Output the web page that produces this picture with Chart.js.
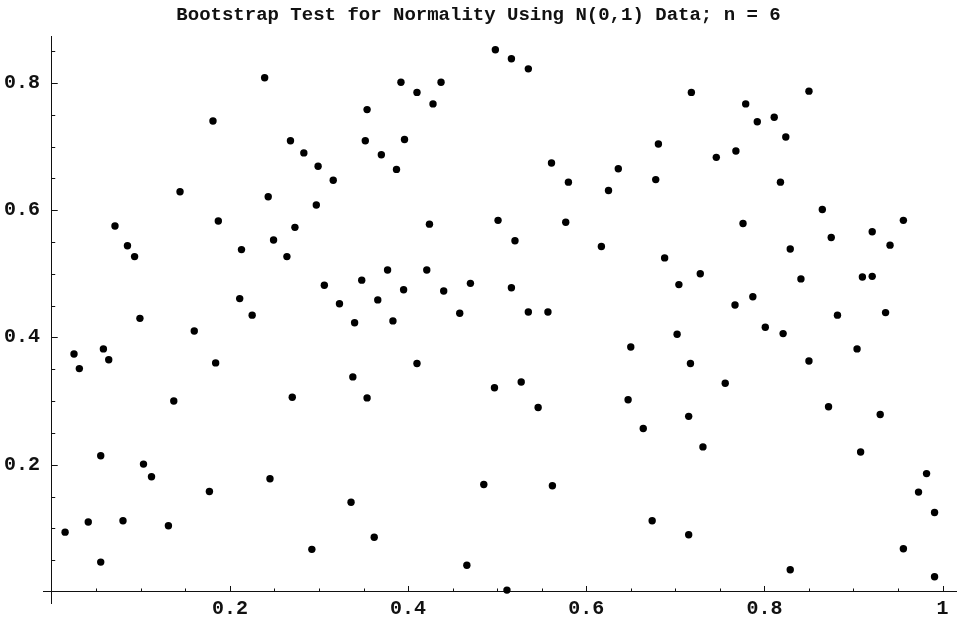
<!DOCTYPE html>
<html>
<head>
<meta charset="utf-8">
<script src="https://cdn.jsdelivr.net/npm/chart.js@4.4.1/dist/chart.umd.min.js"></script>
<style>
  html, body { margin: 0; padding: 0; background: #fff; }
  canvas { display: block; }
</style>
</head>
<body>
<canvas id="bootChart" width="960" height="625"></canvas>
<script>
// Données (x = rang, y = valeur bootstrap)
const xValues = [
  0.239, 0.181, 0.144, 0.243, 0.071, 0.187, 0.085, 0.093, 0.213, 0.249, 0.211, 0.225, 0.099,
  0.160, 0.025, 0.031, 0.058, 0.064, 0.184, 0.137, 0.055, 0.103, 0.112, 0.245, 0.177, 0.015,
  0.041, 0.080, 0.131, 0.055,
  0.498, 0.392, 0.410, 0.437, 0.428, 0.354, 0.268, 0.283, 0.299, 0.316, 0.352, 0.396, 0.370,
  0.387, 0.297, 0.273, 0.264, 0.424, 0.501, 0.306, 0.323, 0.348, 0.377, 0.395, 0.366, 0.421,
  0.440, 0.470, 0.458,
  0.340, 0.383, 0.410, 0.338, 0.270, 0.354, 0.497, 0.485, 0.336, 0.362, 0.292, 0.466, 0.511,
  0.516, 0.535, 0.718, 0.681, 0.746, 0.768, 0.561, 0.636, 0.580, 0.678, 0.625, 0.577, 0.520,
  0.617, 0.688, 0.728, 0.704, 0.516, 0.535, 0.557, 0.767,
  0.702, 0.650, 0.717, 0.527, 0.756, 0.546, 0.647, 0.715, 0.664, 0.731, 0.562, 0.674, 0.715,
  0.850, 0.779, 0.792, 0.811, 0.824, 0.818, 0.865, 0.776, 0.956, 0.875, 0.921, 0.941, 0.829,
  0.841, 0.910, 0.921, 0.787, 0.882, 0.936,
  0.801, 0.821, 0.904, 0.850, 0.872, 0.930, 0.908, 0.982, 0.973, 0.991, 0.956, 0.829, 0.991
];
const yValues = [
  0.808, 0.740, 0.629, 0.621, 0.575, 0.583, 0.544, 0.527, 0.538, 0.553, 0.461, 0.435, 0.430,
  0.410, 0.374, 0.351, 0.382, 0.365, 0.360, 0.300, 0.214, 0.201, 0.181, 0.178, 0.158, 0.094,
  0.110, 0.112, 0.104, 0.047,
  0.852, 0.801, 0.785, 0.801, 0.767, 0.758, 0.709, 0.690, 0.669, 0.647, 0.709, 0.711, 0.687,
  0.664, 0.608, 0.573, 0.527, 0.578, 0.584, 0.482, 0.453, 0.490, 0.506, 0.475, 0.459, 0.506,
  0.473, 0.485, 0.438,
  0.423, 0.426, 0.359, 0.338, 0.306, 0.305, 0.321, 0.169, 0.141, 0.086, 0.067, 0.042, 0.003,
  0.838, 0.822, 0.785, 0.704, 0.683, 0.693, 0.674, 0.665, 0.644, 0.648, 0.631, 0.581, 0.552,
  0.543, 0.525, 0.500, 0.483, 0.478, 0.440, 0.440, 0.451,
  0.405, 0.385, 0.359, 0.330, 0.328, 0.290, 0.302, 0.276, 0.257, 0.228, 0.167, 0.112, 0.090,
  0.787, 0.767, 0.739, 0.746, 0.715, 0.644, 0.601, 0.579, 0.584, 0.557, 0.566, 0.545, 0.539,
  0.492, 0.495, 0.496, 0.464, 0.435, 0.439,
  0.416, 0.406, 0.382, 0.363, 0.291, 0.279, 0.220, 0.186, 0.157, 0.125, 0.068, 0.035, 0.024
];

// Graduations
const xTickValues = [0.2, 0.4, 0.6, 0.8, 1];
const xTickLabels = ['0.2', '0.4', '0.6', '0.8', '1'];
const yTickValues = [0.2, 0.4, 0.6, 0.8];
const yTickLabels = ['0.2', '0.4', '0.6', '0.8'];
const minorStep = 0.05;

const titleText = 'Bootstrap Test for Normality Using N(0,1) Data; n = 6';

const inkColor = '#111';
const labelFont = { family: 'Liberation Mono', size: 20, weight: 'bold' };
const titleFont = { family: 'Liberation Mono', size: 19, weight: 'bold' };

const xRange = { min: -0.0098, max: 1.0154 };
const yRange = { min: -0.0173, max: 0.8724 };

// Petites graduations tournées vers l'intérieur (style Mathematica)
const innerTicks = {
    id: 'innerTicks',
    afterDraw(chart) {
        const ctx = chart.ctx;
        const xs = chart.scales.x;
        const ys = chart.scales.y;
        const x0 = xs.getPixelForValue(0);
        const y0 = ys.getPixelForValue(0);
        ctx.save();
        ctx.strokeStyle = inkColor;
        ctx.lineWidth = 1;
        ctx.beginPath();
        for (let i = 1; i * minorStep <= xs.max; i++) {
            const len = (i % 4 === 0) ? 6 : 3.5;
            const px = Math.round(xs.getPixelForValue(i * minorStep)) + 0.5;
            ctx.moveTo(px, y0);
            ctx.lineTo(px, y0 - len);
        }
        for (let i = 1; i * minorStep <= ys.max; i++) {
            const len = (i % 4 === 0) ? 6 : 3.5;
            const py = Math.round(ys.getPixelForValue(i * minorStep)) + 0.5;
            ctx.moveTo(x0, py);
            ctx.lineTo(x0 + len, py);
        }
        ctx.stroke();
        ctx.restore();
    }
};

const points = xValues.map((x, i) => ({ x: x, y: yValues[i] }));

new Chart(document.getElementById('bootChart').getContext('2d'), {
    type: 'scatter',
    data: {
        datasets: [{
            label: 'bootstrap',
            data: points,
            backgroundColor: '#000',
            borderColor: '#000',
            borderWidth: 0,
            pointRadius: 3.7,
            pointHoverRadius: 3.7
        }]
    },
    options: {
        responsive: false,
        animation: false,
        layout: {
            padding: { left: 0, right: 3, top: 0, bottom: 22 }
        },
        scales: {
            x: {
                type: 'linear',
                position: { y: 0 },
                min: xRange.min,
                max: xRange.max,
                afterBuildTicks(scale) {
                    scale.ticks = xTickValues.map(v => ({ value: v }));
                },
                grid: { display: false },
                border: { display: true, color: inkColor, width: 1 },
                ticks: {
                    color: inkColor,
                    font: labelFont,
                    padding: -3,
                    maxRotation: 0,
                    autoSkip: false,
                    callback: (v, i) => xTickLabels[i]
                }
            },
            y: {
                type: 'linear',
                position: { x: 0 },
                min: yRange.min,
                max: yRange.max,
                grid: { display: false },
                border: { display: true, color: inkColor, width: 1 },
                ticks: { display: false }
            },
            // axe à gauche qui ne porte que les étiquettes
            yLabels: {
                type: 'linear',
                position: 'left',
                min: yRange.min,
                max: yRange.max,
                afterBuildTicks(scale) {
                    scale.ticks = yTickValues.map(v => ({ value: v }));
                },
                afterFit(scale) {
                    scale.width = 43;
                },
                grid: { display: false, drawTicks: false },
                border: { display: false },
                ticks: {
                    color: inkColor,
                    font: labelFont,
                    padding: 3,
                    autoSkip: false,
                    callback: (v, i) => yTickLabels[i]
                }
            }
        },
        plugins: {
            legend: { display: false },
            tooltip: { enabled: false },
            title: {
                display: true,
                text: titleText,
                color: inkColor,
                font: titleFont,
                padding: { top: 4, bottom: 10 }
            }
        }
    },
    plugins: [innerTicks]
});
</script>
</body>
</html>
